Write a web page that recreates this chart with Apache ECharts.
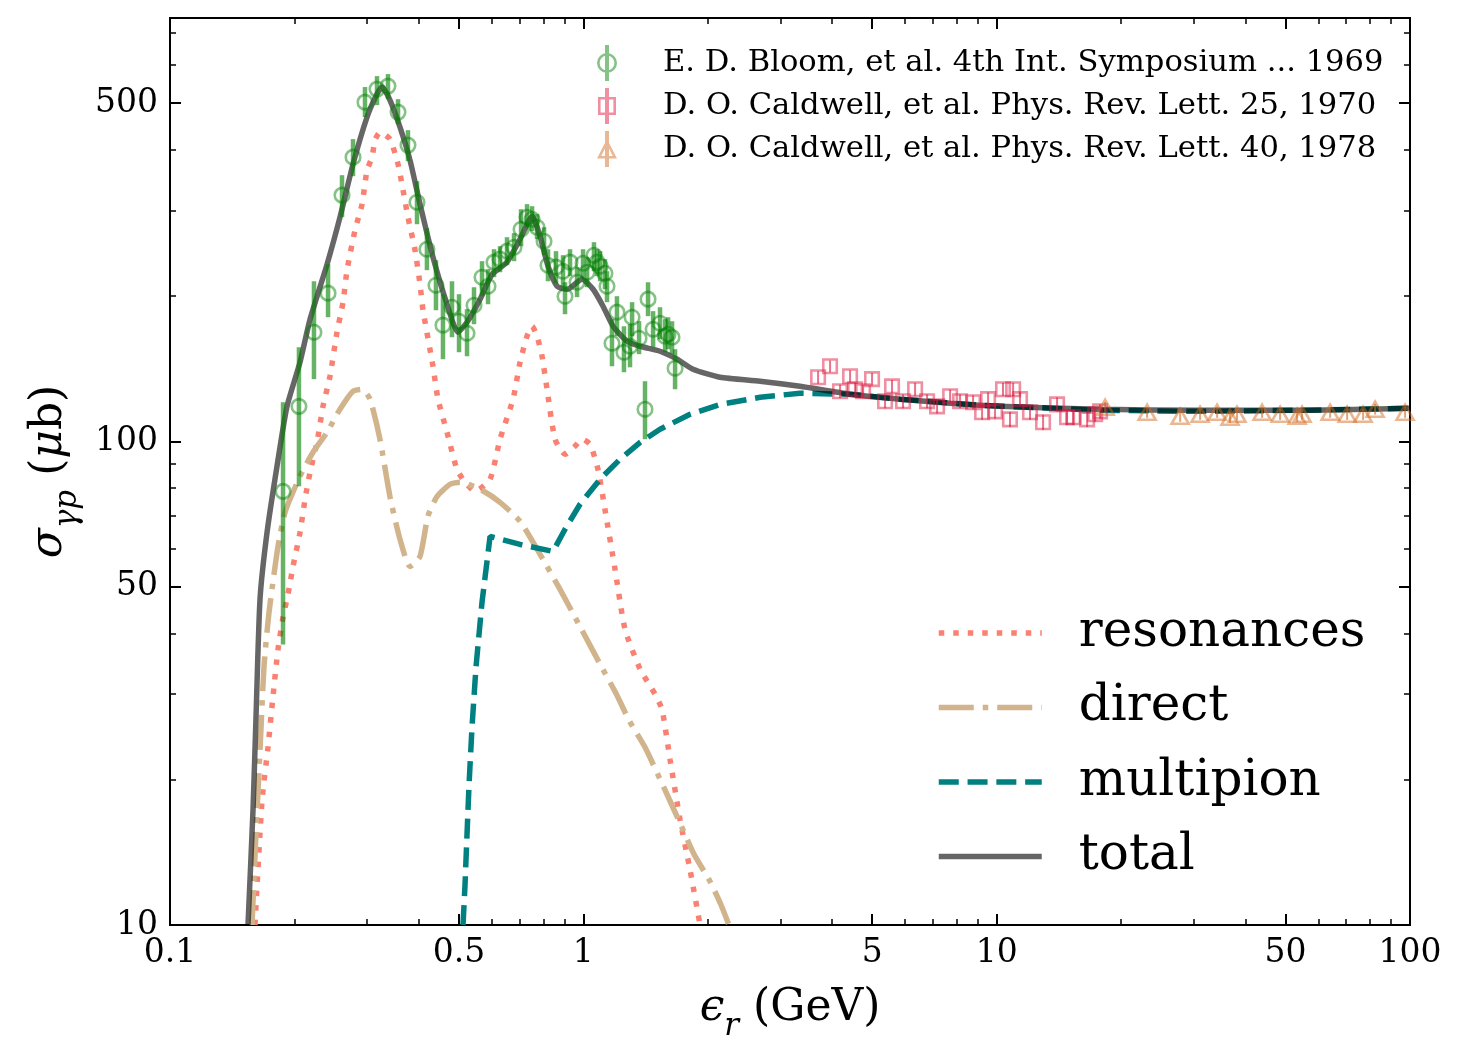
<!DOCTYPE html>
<html>
<head>
<meta charset="utf-8">
<title>photoproduction cross section</title>
<script src="https://cdn.jsdelivr.net/npm/echarts@6/dist/echarts.min.js"></script>
<style>
html, body { margin: 0; padding: 0; background: #fff; }
#chart { width: 1464px; height: 1051px; }
</style>
</head>
<body>
<div id="chart"></div>
<script>
// model curves, eps_r in GeV, sigma in microbarn
const totalX = [0.1544, 0.1588, 0.1614, 0.1651, 0.1717, 0.1815, 0.1919, 0.2063, 0.2182, 0.2399, 0.2578, 0.2772, 0.2997, 0.3168, 0.3258, 0.3405, 0.3601, 0.3807, 0.4026, 0.4328, 0.4680, 0.4973, 0.5231, 0.5627, 0.6014, 0.6536, 0.7029, 0.7516, 0.7856, 0.8213, 0.8639, 0.9133, 0.9929, 1.056, 1.116, 1.180, 1.276, 1.372, 1.533, 1.686, 1.842, 2.142, 2.677, 3.344, 4.419, 5.838, 7.716, 10.19, 17.79, 31.06, 54.22, 100]
const totalY = [10.0, 17.3, 26.6, 47.1, 64.8, 88.8, 118.1, 145.7, 178.8, 232.3, 290.6, 374.1, 468.0, 522.2, 539.9, 507.4, 446.0, 381.3, 309.2, 240.2, 192.0, 168.1, 176.2, 196.7, 221.4, 234.6, 261.7, 292.0, 265.5, 230.1, 209.2, 206.2, 216.3, 206.2, 190.2, 172.9, 161.0, 157.2, 153.5, 147.8, 140.9, 135.6, 133.1, 129.9, 125.1, 122.2, 119.8, 118.1, 116.5, 115.9, 115.9, 117.0]

const resX = [0.1605, 0.1670, 0.1726, 0.1775, 0.1825, 0.1877, 0.1930, 0.1984, 0.2063, 0.2122, 0.2182, 0.2268, 0.2345, 0.2438, 0.2535, 0.2622, 0.2681, 0.2803, 0.2915, 0.2997, 0.3082, 0.3133, 0.3221, 0.3405, 0.3562, 0.3663, 0.3765, 0.3916, 0.4026, 0.4094, 0.4328, 0.4450, 0.4680, 0.4946, 0.5173, 0.5470, 0.5948, 0.6287, 0.6760, 0.7029, 0.7308, 0.7516, 0.7727, 0.7946, 0.8170, 0.8541, 0.9030, 0.9548, 0.9929, 1.038, 1.085, 1.128, 1.193, 1.261, 1.372, 1.491, 1.550, 1.621, 1.714, 1.812, 1.916]
const resY = [10.0, 18.1, 23.3, 29.7, 37.1, 43.3, 48.3, 55.1, 64.8, 75.9, 86.3, 99.5, 118.1, 136.3, 168.1, 193.9, 225.8, 273.2, 309.2, 363.5, 386.7, 419.4, 435.4, 421.4, 374.1, 330.5, 290.6, 248.3, 211.2, 186.6, 142.9, 122.2, 104.4, 87.5, 82.3, 78.8, 83.5, 101.0, 122.2, 145.7, 164.9, 172.9, 164.9, 149.9, 128.1, 101.0, 94.0, 97.7, 101.0, 98.6, 87.5, 72.3, 54.4, 40.9, 33.8, 30.0, 27.9, 22.0, 16.5, 13.0, 10.0]

const directX = [0.1579, 0.1614, 0.1651, 0.1688, 0.1736, 0.1825, 0.1898, 0.2063, 0.2218, 0.2399, 0.2578, 0.2772, 0.2915, 0.3047, 0.3221, 0.3405, 0.3601, 0.3807, 0.4026, 0.4208, 0.4426, 0.4760, 0.5030, 0.5627, 0.6287, 0.7029, 0.7856, 0.8783, 0.9817, 1.098, 1.200, 1.290, 1.410, 1.568, 1.705, 1.853, 2.026, 2.154, 2.251]
const directY = [10.0, 15.4, 22.96, 34.2, 44.3, 60.6, 71.3, 84.7, 94.9, 104.4, 116.5, 126.9, 128.1, 122.2, 101.0, 76.9, 62.7, 55.1, 57.8, 70.0, 76.9, 81.5, 82.3, 79.6, 74.8, 68.3, 58.4, 49.4, 41.4, 34.6, 30.1, 26.5, 23.3, 19.2, 16.4, 14.0, 12.3, 11.0, 10.0]

const multiX = [0.5116, 0.5173, 0.5231, 0.5290, 0.5379, 0.5500, 0.5687, 0.5948, 0.7029, 0.8448, 0.9030, 0.9817, 1.098, 1.227, 1.372, 1.533, 1.812, 2.142, 2.677, 3.344, 4.419, 5.838, 9.116, 17.79, 31.06, 54.22, 100]
const multiY = [10.0, 12.1, 15.4, 19.5, 25.7, 34.2, 46.5, 63.6, 61.2, 59.2, 65.8, 74.1, 83.5, 91.8, 99.5, 105.9, 113.7, 119.2, 123.3, 125.7, 125.1, 122.2, 118.7, 115.9, 115.3, 115.9, 117.0]

// measurements
const bloomX = [0.1877, 0.2051, 0.2230, 0.2412, 0.2607, 0.2772, 0.2963, 0.3168, 0.3368, 0.3562, 0.3765, 0.3959, 0.4184, 0.4400, 0.4575, 0.4811, 0.5003, 0.5231, 0.5439, 0.5687, 0.5881, 0.6080, 0.6287, 0.6536, 0.6797, 0.7068, 0.7308, 0.7516, 0.7727, 0.8034, 0.8213, 0.8588, 0.8931, 0.9030, 0.9286, 0.9656, 0.9984, 1.021, 1.061, 1.080, 1.098, 1.128, 1.141, 1.173, 1.206, 1.254, 1.297, 1.312, 1.364, 1.410, 1.434, 1.475, 1.533, 1.577, 1.603, 1.639, 1.667]
const bloomY = [78.8, 118.1, 168.1, 202.4, 322.7, 386.7, 502.5, 534.6, 542.3, 479.2, 409.5, 312.1, 249.5, 210.2, 173.8, 189.3, 177.1, 167.3, 191.1, 218.4, 209.2, 234.6, 238.0, 247.2, 251.9, 274.4, 290.6, 287.8, 277.0, 259.2, 231.2, 229.1, 224.7, 199.5, 234.6, 213.2, 233.4, 223.6, 242.5, 234.6, 230.1, 222.6, 209.2, 159.5, 184.9, 152.8, 157.2, 180.5, 163.3, 116.5, 196.7, 170.5, 175.4, 164.9, 166.5, 164.1, 141.6]
const bloomHi = [120.4, 156.5, 214.2, 232.3, 354.9, 421.4, 539.9, 568.7, 574.2, 509.7, 439.8, 344.9, 275.7, 236.8, 201.4, 214.2, 201.4, 187.5, 208.2, 235.7, 226.9, 249.5, 253.1, 264.2, 269.3, 301.8, 309.2, 306.2, 294.8, 277.0, 249.5, 247.2, 242.5, 213.2, 249.5, 229.1, 249.5, 240.2, 258.0, 249.5, 247.2, 238.0, 224.7, 178.8, 199.5, 172.9, 174.6, 193.9, 177.1, 133.1, 213.2, 185.8, 189.3, 178.8, 180.5, 177.1, 155.0]
const bloomLo = [38.0, 80.7, 134.4, 180.5, 290.6, 353.2, 468.0, 495.4, 509.7, 452.5, 379.5, 281.0, 225.8, 186.6, 147.8, 164.1, 152.8, 149.9, 174.6, 199.5, 192.0, 218.4, 223.6, 231.2, 235.7, 253.1, 277.0, 271.9, 261.7, 242.5, 214.2, 212.2, 208.2, 183.1, 219.4, 198.6, 218.4, 208.2, 224.7, 219.4, 214.2, 206.2, 193.9, 142.9, 164.9, 138.9, 142.2, 164.9, 151.4, 101.0, 181.4, 156.5, 162.5, 152.8, 155.0, 151.4, 128.1]

const cald70X = [3.698, 3.953, 4.179, 4.419, 4.545, 4.752, 4.995, 5.370, 5.583, 5.936, 6.348, 6.786, 7.175, 7.716, 8.155, 8.768, 9.220, 9.533, 9.911, 10.36, 10.77, 10.96, 11.39, 12.04, 12.95, 14.00, 14.80, 15.31, 16.55, 17.31, 17.79]
const cald70Y = [135.6, 142.9, 126.9, 136.3, 128.1, 126.9, 134.4, 121.0, 129.9, 121.0, 128.1, 121.0, 118.1, 123.9, 121.0, 120.4, 114.8, 122.2, 115.3, 128.1, 111.0, 128.1, 122.2, 114.8, 109.5, 119.2, 112.1, 112.1, 111.0, 113.7, 115.3]
const cald70Err = 4

const cald78X = [18.30, 23.12, 27.79, 31.06, 34.15, 36.69, 38.15, 43.87, 48.50, 53.32, 54.82, 64.09, 70.45, 77.02, 82.34, 97.30]
const cald78Y = [117.6, 114.8, 112.7, 113.7, 114.8, 112.1, 113.7, 114.8, 113.7, 112.7, 113.7, 114.8, 113.7, 113.7, 116.5, 114.8]
const cald78Err = 3

// axes
const xRange = [0.1, 100]
const yRange = [10, 750]
const xMajor = [0.1, 0.5, 1, 5, 10, 50, 100]
const xMinor = [0.2, 0.3, 0.4, 0.6, 0.7, 0.8, 0.9, 2, 3, 4, 6, 7, 8, 9, 20, 30, 40, 60, 70, 80, 90]
const yMajor = [10, 50, 100, 500]
const yMinor = [20, 30, 40, 60, 70, 80, 90, 200, 300, 400, 600, 700]

const BLOOM = 'E. D. Bloom, et al. 4th Int. Symposium ... 1969'
const CALD70 = 'D. O. Caldwell, et al. Phys. Rev. Lett. 25, 1970'
const CALD78 = 'D. O. Caldwell, et al. Phys. Rev. Lett. 40, 1978'

const FONT = 'DejaVu Serif'
const GREEN = 'rgba(0,128,0,0.6)'
const CRIMSON = 'rgba(220,20,60,0.6)'
const ORANGE = 'rgba(210,105,30,0.6)'
const NOFILL = 'rgba(0,0,0,0)'

function pairs (xs, ys) {
  return xs.map((x, i) => [x, ys[i]])
}
function bars (xs, lo, hi) {
  return xs.map((x, i) => [x, lo[i], hi[i]])
}
function fmtTick (v) {
  return String(Number(Math.pow(10, v).toPrecision(3)))
}

// value axes in log10 space only carry ticks and labels; data sit on the log axes
function tickAxis (position, ticks, len, range, withLabels) {
  const vals = ticks.map(Math.log10)
  return {
    type: 'value',
    position: position,
    min: Math.log10(range[0]),
    max: Math.log10(range[1]),
    axisLine: { show: false, onZero: false },
    axisTick: { show: true, inside: true, length: len, customValues: vals, lineStyle: { color: '#000', width: len > 8 ? 2 : 1.5 } },
    axisLabel: withLabels
      ? { show: true, customValues: vals, formatter: fmtTick, fontFamily: FONT, fontSize: 33, color: '#000', margin: 12 }
      : { show: false },
    splitLine: { show: false }
  }
}

const nameRich = {
  i: { fontFamily: FONT, fontStyle: 'italic', fontSize: 44, color: '#000', lineHeight: 50, verticalAlign: 'top' },
  s: { fontFamily: FONT, fontStyle: 'italic', fontSize: 31, color: '#000', lineHeight: 34, padding: [24, 0, 0, 0], verticalAlign: 'top' },
  n: { fontFamily: FONT, fontSize: 44, color: '#000', lineHeight: 50, verticalAlign: 'top' }
}

const xBottom = tickAxis('bottom', xMajor, 11, xRange, true)
xBottom.name = '{i|ϵ}{s|r}{n| (GeV)}'
xBottom.nameLocation = 'middle'
xBottom.nameGap = 62
xBottom.nameTextStyle = { rich: nameRich }

const yLeft = tickAxis('left', yMajor, 11, yRange, true)
yLeft.name = '{i|σ}{s|γp}{n| (}{i|μ}{n|b)}'
yLeft.nameLocation = 'middle'
yLeft.nameRotate = 90
yLeft.nameGap = 92
yLeft.nameTextStyle = { rich: nameRich }

// legend icons: marker outline with error bar through it
const circIcon = 'path://M8,0L12,0L12,36L8,36Z M0,18A10,10,0,1,1,20,18A10,10,0,1,1,0,18Z M2.6,18A7.4,7.4,0,1,0,17.4,18A7.4,7.4,0,1,0,2.6,18Z'
const sqIcon = 'path://M8,0L12,0L12,36L8,36Z M1,9L19,9L19,27L1,27Z M3.6,11.6L3.6,24.4L16.4,24.4L16.4,11.6Z'
const triIcon = 'path://M8,0L12,0L12,36L8,36Z M10,8L20,27.5L0,27.5Z M10,13.5L4.2,25L15.8,25Z'

function errorSeries (data, color, width) {
  return {
    type: 'custom',
    xAxisIndex: 0,
    yAxisIndex: 0,
    silent: true,
    z: 4,
    encode: { x: 0, y: [1, 2] },
    data: data,
    renderItem: function (params, api) {
      const x = api.value(0)
      const p1 = api.coord([x, api.value(1)])
      const p2 = api.coord([x, api.value(2)])
      return {
        type: 'line',
        shape: { x1: p1[0], y1: p1[1], x2: p2[0], y2: p2[1] },
        style: { stroke: color, lineWidth: width }
      }
    }
  }
}

function lineSeries (name, data, color, dash, smooth) {
  return {
    name: name,
    type: 'line',
    xAxisIndex: 0,
    yAxisIndex: 0,
    data: data,
    symbol: 'none',
    smooth: smooth,
    clip: true,
    z: 2,
    itemStyle: { color: NOFILL, borderWidth: 0 },
    lineStyle: { color: color, width: 5.5, type: dash, cap: 'butt' },
    emphasis: { disabled: true }
  }
}

function markerSeries (name, data, symbol, size, color) {
  return {
    name: name,
    type: 'scatter',
    xAxisIndex: 0,
    yAxisIndex: 0,
    z: 5,
    symbol: symbol,
    symbolSize: size,
    itemStyle: { color: NOFILL, borderColor: color, borderWidth: 2.6 },
    emphasis: { disabled: true },
    data: data
  }
}

const chart = echarts.init(document.getElementById('chart'))

const option = {
  animation: false,
  backgroundColor: '#fff',
  textStyle: { fontFamily: FONT },
  grid: {
    left: 170, top: 18, right: 54, bottom: 126,
    show: true, borderColor: '#000', borderWidth: 2,
    outerBoundsMode: 'none'
  },
  xAxis: [
    { type: 'log', logBase: 10, min: xRange[0], max: xRange[1], show: false },
    xBottom,
    tickAxis('bottom', xMinor, 6, xRange, false),
    tickAxis('top', xMajor, 11, xRange, false),
    tickAxis('top', xMinor, 6, xRange, false)
  ],
  yAxis: [
    { type: 'log', logBase: 10, min: yRange[0], max: yRange[1], show: false },
    yLeft,
    tickAxis('left', yMinor, 6, yRange, false),
    tickAxis('right', yMajor, 11, yRange, false),
    tickAxis('right', yMinor, 6, yRange, false)
  ],
  legend: [{
    orient: 'vertical',
    left: 592,
    top: 40,
    itemWidth: 102,
    itemHeight: 36,
    itemGap: 7,
    selectedMode: false,
    symbolKeepAspect: true,
    itemStyle: { borderWidth: 0 },
    textStyle: { fontFamily: FONT, fontSize: 30.6, color: '#000', lineHeight: 34 },
    data: [
      { name: BLOOM, icon: circIcon, itemStyle: { color: GREEN, borderWidth: 0 } },
      { name: CALD70, icon: sqIcon, itemStyle: { color: CRIMSON, borderWidth: 0 } },
      { name: CALD78, icon: triIcon, itemStyle: { color: ORANGE, borderWidth: 0 } }
    ]
  }, {
    orient: 'vertical',
    left: 931,
    top: 600,
    itemWidth: 103,
    itemHeight: 20,
    itemGap: 18.5,
    selectedMode: false,
    itemStyle: { color: NOFILL, borderColor: NOFILL, borderWidth: 0 },
    lineStyle: { width: 'inherit' },
    textStyle: { fontFamily: FONT, fontSize: 50, color: '#000', lineHeight: 56, padding: [0, 0, 0, 32] },
    data: ['resonances', 'direct', 'multipion', 'total']
  }],
  series: [
    lineSeries('resonances', pairs(resX, resY), '#FA8072', [5.5, 9], 0.2),
    lineSeries('direct', pairs(directX, directY), '#D2B48C', [35, 9, 5.5, 9], 0.2),
    lineSeries('multipion', pairs(multiX, multiY), '#008080', [20, 8.8], false),
    lineSeries('total', pairs(totalX, totalY), 'rgba(0,0,0,0.6)', 'solid', 0.2),
    errorSeries(bars(bloomX, bloomLo, bloomHi), GREEN, 4.5),
    errorSeries(bars(cald70X, cald70Y.map(v => v - cald70Err), cald70Y.map(v => v + cald70Err)), CRIMSON, 2),
    errorSeries(bars(cald78X, cald78Y.map(v => v - cald78Err), cald78Y.map(v => v + cald78Err)), ORANGE, 2),
    markerSeries(BLOOM, pairs(bloomX, bloomY), 'circle', 14.5, GREEN),
    markerSeries(CALD70, pairs(cald70X, cald70Y), 'rect', 13.5, CRIMSON),
    markerSeries(CALD78, pairs(cald78X, cald78Y), 'triangle', [17, 15], ORANGE)
  ]
}

chart.setOption(option)
</script>
</body>
</html>
